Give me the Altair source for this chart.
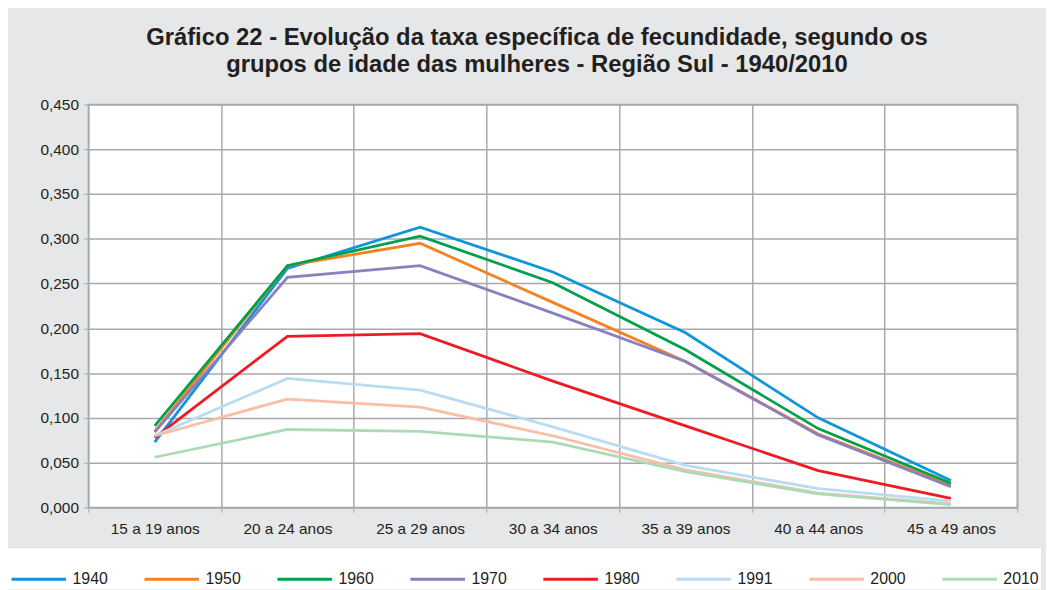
import altair as alt
import pandas as pd

categories = ["15 a 19 anos", "20 a 24 anos", "25 a 29 anos", "30 a 34 anos",
              "35 a 39 anos", "40 a 44 anos", "45 a 49 anos"]
years = ["1940", "1950", "1960", "1970", "1980", "1991", "2000", "2010"]
colors = ["#0f96d8", "#f58220", "#00a14b", "#8a7fbf", "#ed1c24", "#b9dcf4", "#f9bea6", "#aadbb6"]

v1940 = [0.073, 0.267, 0.313, 0.263, 0.195, 0.100, 0.030]
v1950 = [0.085, 0.270, 0.295, 0.229, 0.163, 0.082, 0.025]
v1960 = [0.091, 0.270, 0.303, 0.251, 0.176, 0.088, 0.027]
v1970 = [0.084, 0.257, 0.270, 0.217, 0.163, 0.081, 0.023]
v1980 = [0.078, 0.191, 0.194, 0.141, 0.091, 0.041, 0.010]
v1991 = [0.080, 0.144, 0.131, 0.090, 0.047, 0.021, 0.007]
v2000 = [0.080, 0.121, 0.112, 0.080, 0.042, 0.016, 0.004]
v2010 = [0.056, 0.087, 0.085, 0.073, 0.040, 0.015, 0.003]

y_ticks = [0.0, 0.05, 0.10, 0.15, 0.20, 0.25, 0.30, 0.35, 0.40, 0.45]

title_lines = ["Gráfico 22 - Evolução da taxa específica de fecundidade, segundo os",
               "grupos de idade das mulheres - Região Sul - 1940/2010"]

series = dict(zip(years, [v1940, v1950, v1960, v1970, v1980, v1991, v2000, v2010]))
rows = []
for yr, vals in series.items():
    for cat, val in zip(categories, vals):
        rows.append({"grupo": cat, "ano": yr, "taxa": val})
df = pd.DataFrame(rows)

FONT = "Liberation Sans"
TXT = "#231f20"
GRID = "#a7a9ac"

chart = alt.Chart(df).mark_line(strokeWidth=2.8).encode(
    x=alt.X("grupo:N", sort=categories,
            scale=alt.Scale(type="band", paddingInner=0, paddingOuter=0),
            axis=alt.Axis(title=None, labelAngle=0, tickBand="extent", grid=True,
                          gridColor=GRID, gridWidth=1.5, tickColor=GRID, tickSize=5,
                          domain=False, labelFont=FONT, labelFontSize=15.5,
                          labelColor=TXT, labelPadding=9)),
    y=alt.Y("taxa:Q", scale=alt.Scale(domain=[0, 0.45], nice=False, zero=True),
            axis=alt.Axis(title=None, values=y_ticks, grid=True, gridColor=GRID,
                          gridWidth=1.5, tickColor=GRID, tickSize=5, domain=False,
                          labelExpr="replace(format(datum.value, '.3f'), '.', ',')",
                          labelFont=FONT, labelFontSize=15.5, labelColor=TXT,
                          labelPadding=5)),
    color=alt.Color("ano:N", scale=alt.Scale(domain=years, range=colors),
                    legend=alt.Legend(orient="none", legendX=-81, legendY=447.5,
                                      direction="horizontal", columns=8, title=None,
                                      symbolType="stroke", symbolSize=3025,
                                      symbolStrokeWidth=3, labelFont=FONT,
                                      labelFontSize=16, labelColor=TXT,
                                      columnPadding=30, labelOffset=5, padding=2,
                                      fillColor="white")),
).properties(
    width=936, height=406,
    title=alt.TitleParams(text=title_lines, font=FONT, fontSize=24, fontWeight="bold",
                          color=TXT, anchor="middle", lineHeight=27, offset=21, dx=-16),
    autosize=alt.AutoSizeParams(type="none"),
    padding={"left": 81, "top": 95, "right": 29, "bottom": 81},
).configure(background="#e6e7e8").configure_view(stroke=GRID, strokeWidth=1.5, fill="white")

chart.save("out.html", embed_options={"renderer": "svg", "actions": False})
